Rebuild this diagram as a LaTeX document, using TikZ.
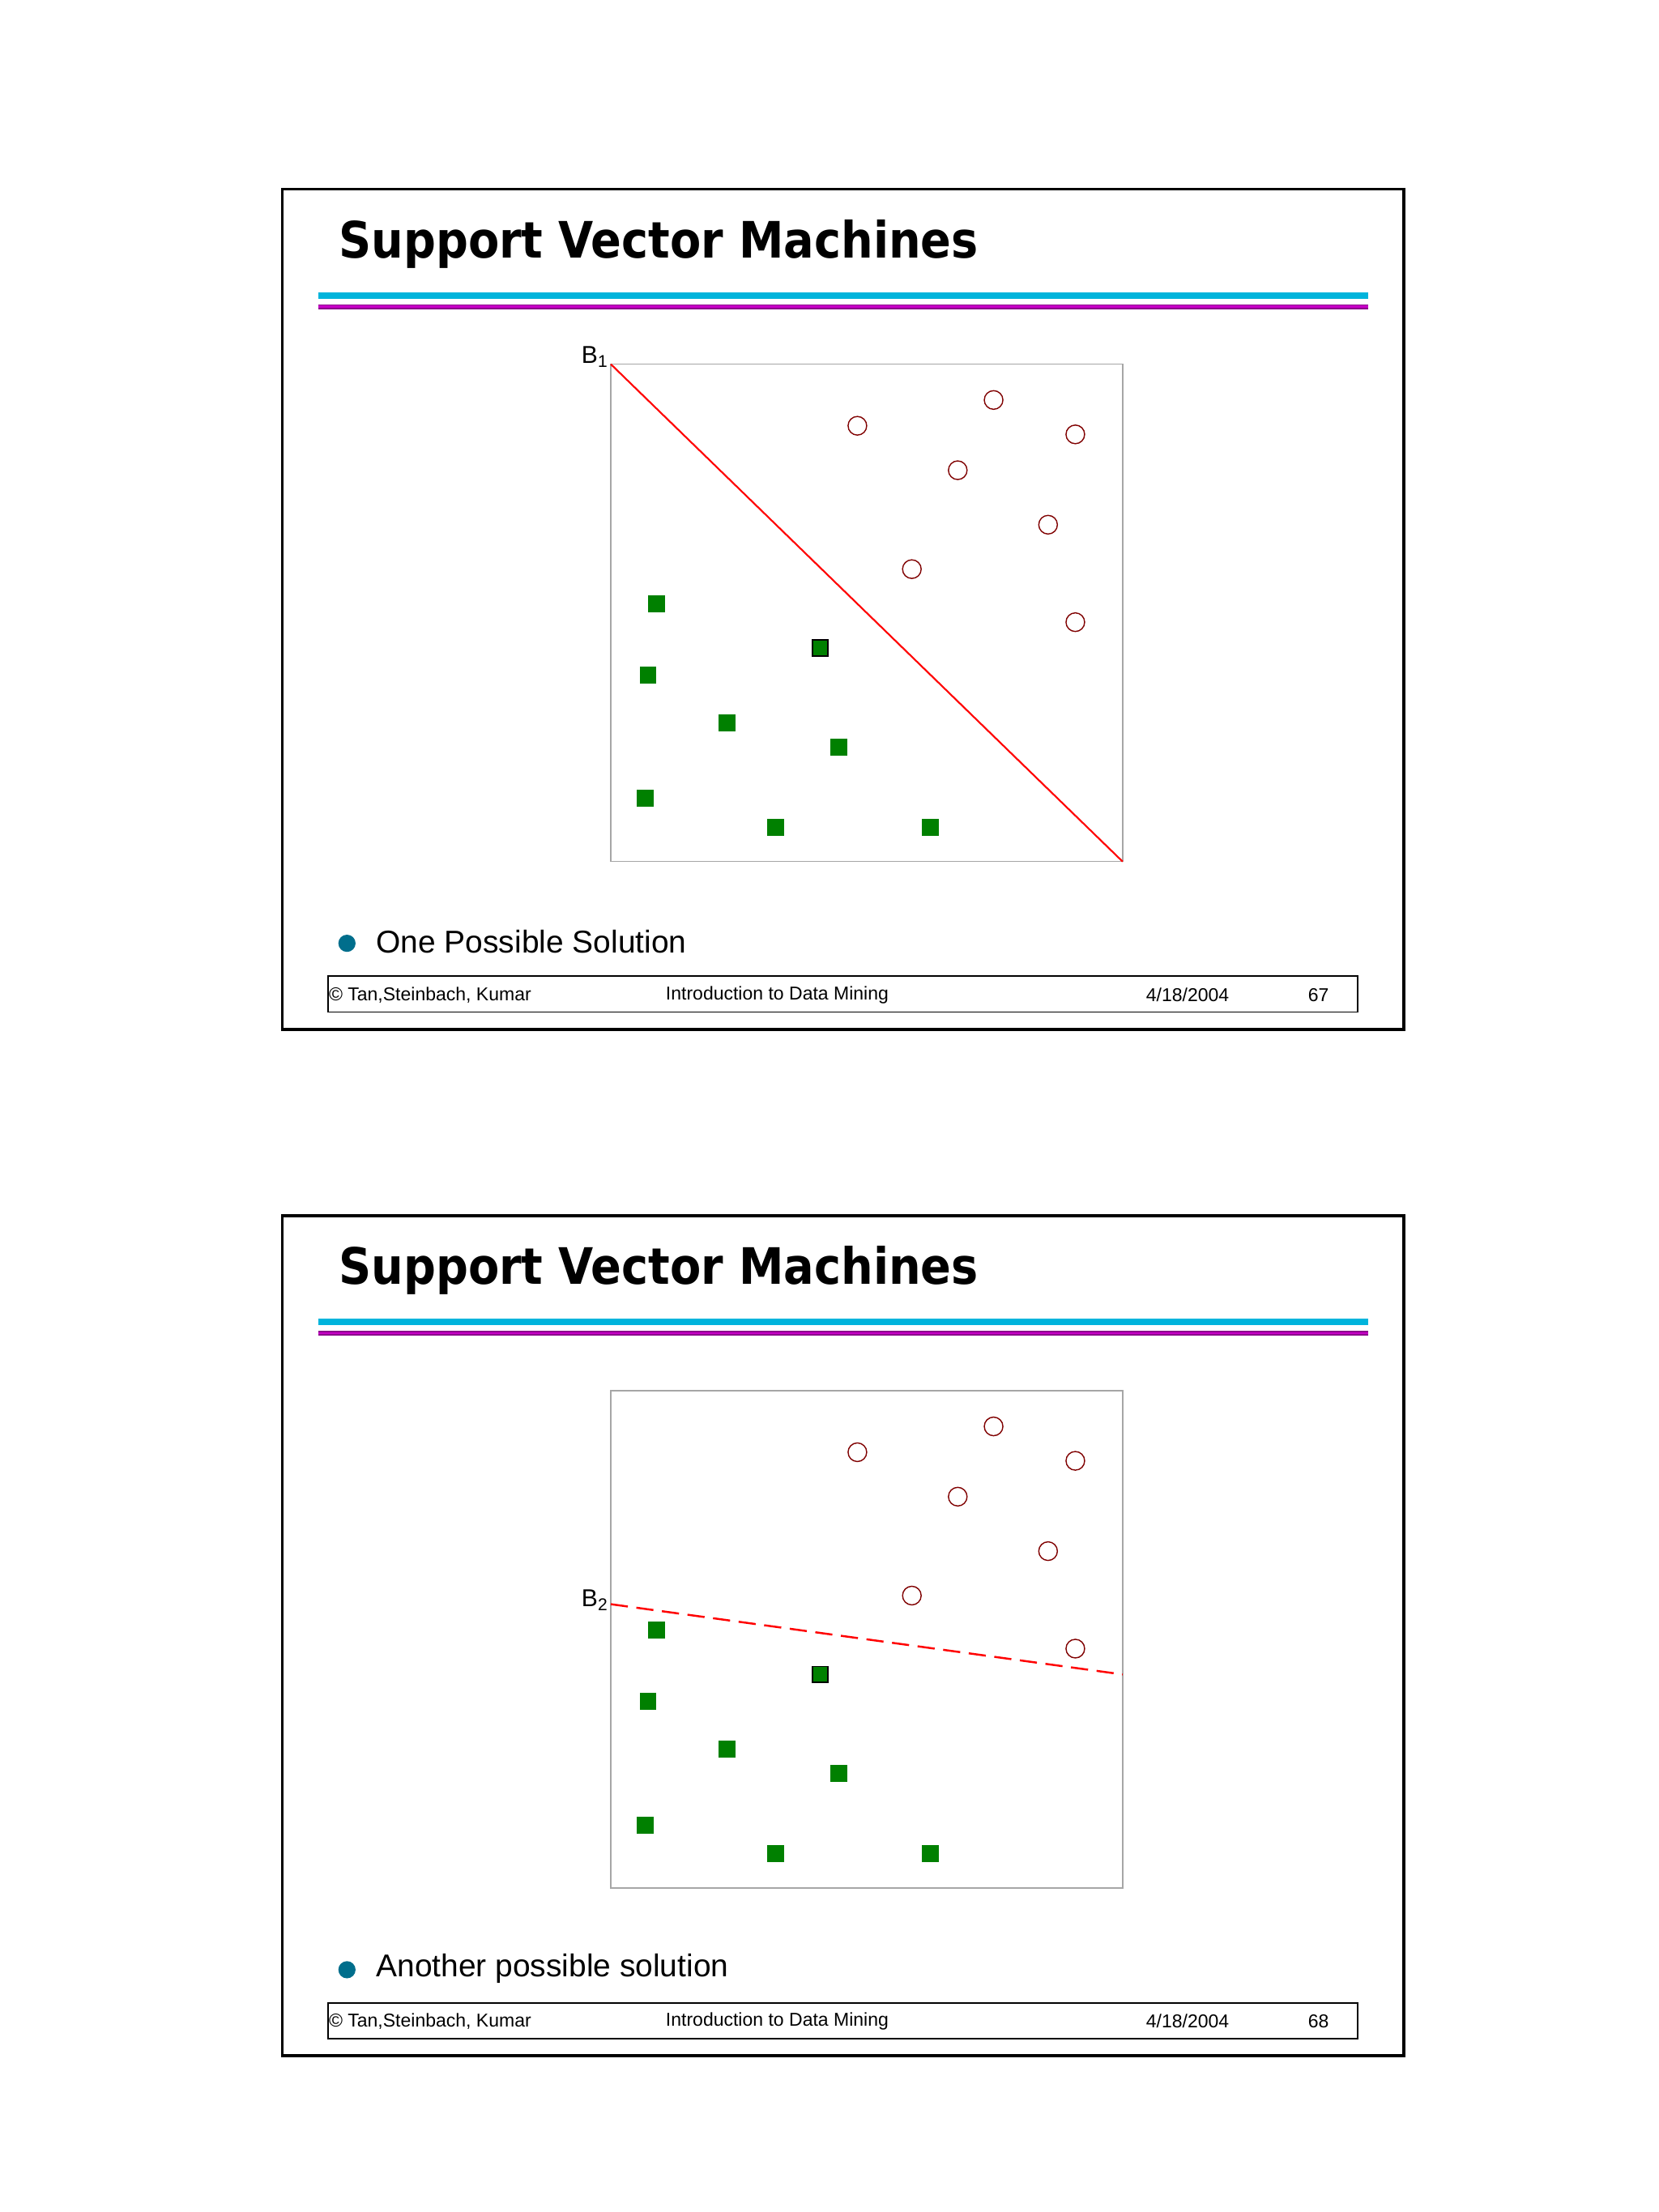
\documentclass[tikz,border=0pt]{standalone}
\usepackage{fontspec}
\setmainfont{Liberation Sans}
\newfontfamily\titlefont{DejaVu Sans Condensed}
\definecolor{ptgreen}{RGB}{0,128,0}
\definecolor{ptred}{RGB}{128,0,0}
\definecolor{ptcyan}{RGB}{0,180,220}
\definecolor{ptmag}{RGB}{200,0,200}
\definecolor{ptteal}{RGB}{0,110,140}
\tikzset{
 circ/.style={circle,draw=ptred,fill=white,minimum size=6.5pt,inner sep=0pt,line width=0.4pt},
 sq/.style={rectangle,fill=ptgreen,draw=ptgreen,minimum size=5.5pt,inner sep=0pt},
 sqb/.style={sq,draw=black,line width=0.5pt},
 foot/.style={font=\fontsize{6.5}{7}\selectfont,anchor=west,inner sep=0pt}
}
\begin{document}
\begin{tikzpicture}[x=0.5pt,y=-0.5pt]
\fill[white] (0,0) rectangle (1157,1543);
\useasboundingbox (0,0) rectangle (1157,1543);
\foreach \o/\n/\cap in {0/67/One Possible Solution,716/68/Another possible solution}{
 \begin{scope}[yshift=-\o*0.5pt]
 \draw[line width=1pt] (197,132) rectangle (979,718);
 \node[anchor=base west,inner sep=0pt,font=\titlefont\bfseries\fontsize{17.5}{19}\selectfont] (title\n) at (236,180) {Support Vector Machines};
 \draw[ptcyan,line width=2.2pt] (222,206) -- (954,206);
 \draw[ptmag!70!black,line width=1.8pt] (222,214) -- (954,214);
 \draw[ptmag,line width=0.8pt] (222,214) -- (954,214);
 \draw[gray!70,line width=0.4pt] (426,254) rectangle (783,601);
 \foreach \x/\y [count=\i] in {598/297,693/279,750/303,668/328,731/366,636/397,750/434}
   \node[circ] (c\n-\i) at (\x,\y) {};
 \foreach \x/\y [count=\i] in {458/421,452/471,507/504,585/521,450/557,541/577,649/577}
   \node[sq] (s\n-\i) at (\x,\y) {};
 \node[sqb] (s\n-b) at (572,452) {};
 \fill[ptteal] (242,658) circle (3pt);
 \node[anchor=west,inner sep=0pt,font=\fontsize{11}{12}\selectfont] (cap\n) at (262,657) {\cap};
 \draw[line width=0.5pt] (229,681) rectangle (947,706);
 \node[foot] (f1\n) at (229,694) {© Tan,Steinbach, Kumar};
 \node[foot] (f2\n) at (464,694) {Introduction to Data Mining};
 \node[foot] (f3\n) at (799,694) {4/18/2004};
 \node[foot] (f4\n) at (912,694) {\n};
 \end{scope}
}
\coordinate (a1) at (426,254); \coordinate (a2) at (783,601);
\draw[red,line width=0.6pt] (a1) -- (a2);
\node[anchor=east,inner sep=0pt,font=\fontsize{8.5}{9}\selectfont] (B1) at (425,249) {B\textsubscript{1}};
\coordinate (b1) at (426,1119); \coordinate (b2) at (783,1168);
\draw[red,line width=0.7pt,dash pattern=on 6pt off 3pt] (b1) -- (b2);
\node[anchor=east,inner sep=0pt,font=\fontsize{8.5}{9}\selectfont] (B2) at (425,1116) {B\textsubscript{2}};
\end{tikzpicture}
\end{document}
